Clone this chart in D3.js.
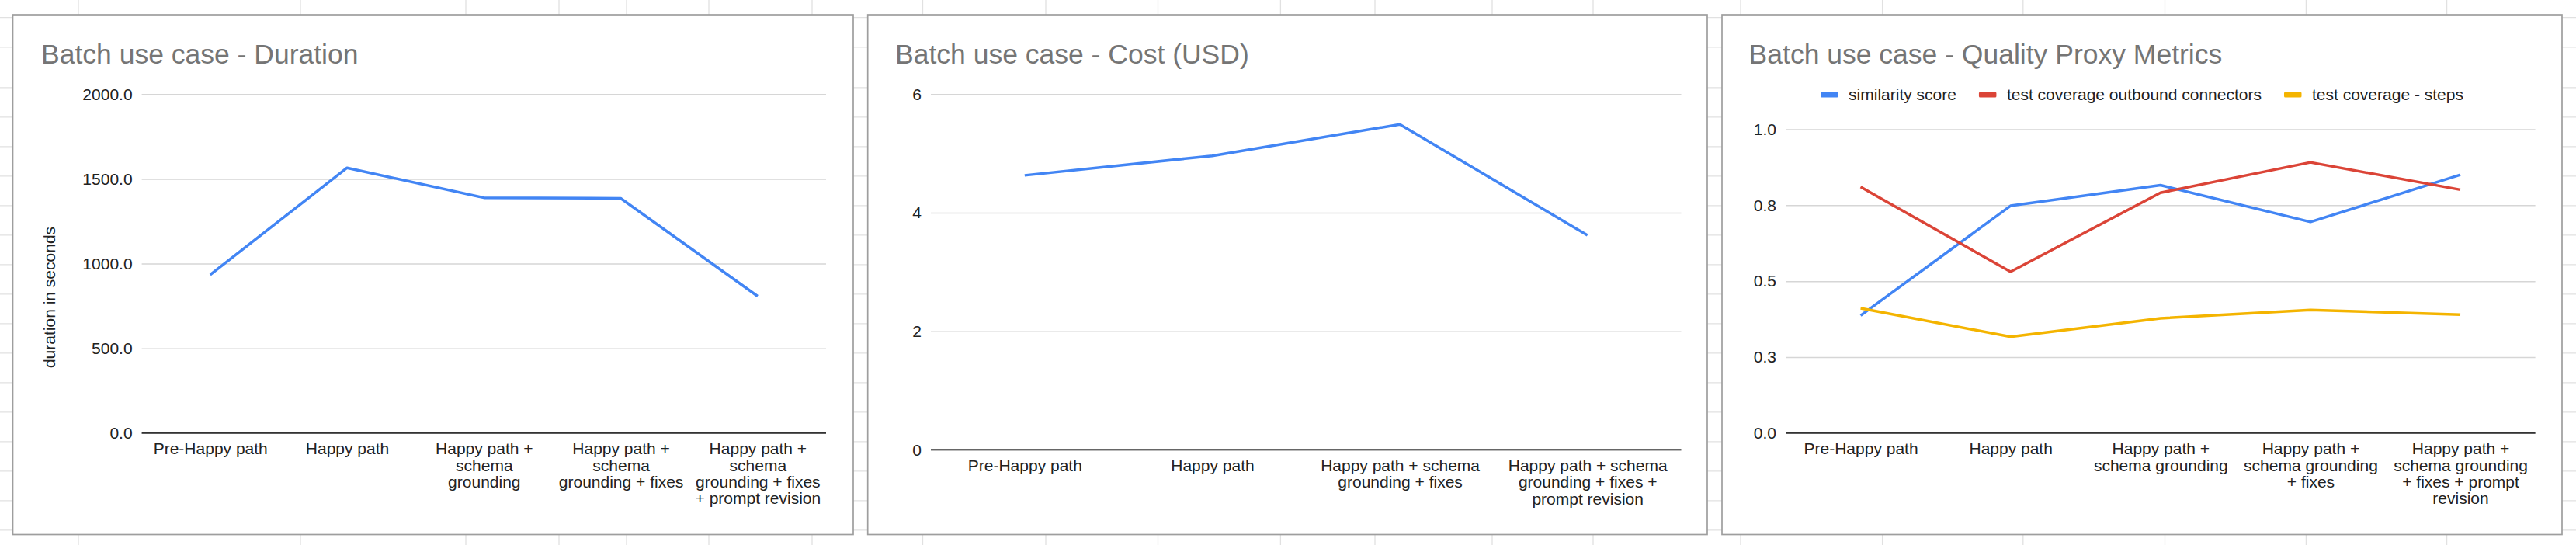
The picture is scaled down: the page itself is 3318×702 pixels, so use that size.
<!DOCTYPE html>
<html>
<head>
<meta charset="utf-8">
<script src="https://cdn.jsdelivr.net/npm/d3@7/dist/d3.min.js"></script>
<style>
  html, body { margin: 0; padding: 0; background: #fff; }
  svg { display: block; }
  text { font-family: 'Liberation Sans', Arial, Helvetica, sans-serif; }
</style>
</head>
<body>
<svg id="chart" width="3318" height="702"></svg>
<script>
// ---------------- DATA ----------------
const categoriesDuration = [
  "Pre-Happy path",
  "Happy path",
  "Happy path + schema grounding",
  "Happy path + schema grounding + fixes",
  "Happy path + schema grounding + fixes + prompt revision"
];
const durationSeconds = [934, 1565, 1389, 1385, 808];
const durationTicks = [0, 500, 1000, 1500, 2000];
const durationTickLabels = ["0.0", "500.0", "1000.0", "1500.0", "2000.0"];

const categoriesCost = [
  "Pre-Happy path",
  "Happy path",
  "Happy path + schema grounding + fixes",
  "Happy path + schema grounding + fixes + prompt revision"
];
const costUSD = [4.63, 4.96, 5.49, 3.62];
const costTicks = [0, 2, 4, 6];
const costTickLabels = ["0", "2", "4", "6"];

const categoriesQuality = categoriesDuration;
const qualitySeriesNames = ["similarity score", "test coverage outbound connectors", "test coverage - steps"];
const similarityScore = [0.387, 0.748, 0.816, 0.695, 0.850];
const coverageOutbound = [0.810, 0.531, 0.791, 0.891, 0.801];
const coverageSteps = [0.411, 0.317, 0.378, 0.405, 0.390];
const qualityTicks = [0, 0.25, 0.5, 0.75, 1.0];
const qualityTickLabels = ["0.0", "0.3", "0.5", "0.8", "1.0"];

// ---------------- STYLE / LAYOUT ----------------
const FONT = 21;
const LINE_H = 21.3;
const COLORS = ["#4285F4", "#DB4437", "#F4B400"];

const svg = d3.select("#chart");
svg.append("rect").attr("width", 3318).attr("height", 702).attr("fill", "#fff");

// spreadsheet cell grid behind the charts
const sheetRows = [22.7, 60.8].concat(d3.range(112.8, 702, 38));
const sheetCols = [101, 387, 600, 720, 807, 913, 1046, 1188.5, 1347, 1491.5, 1649.4, 1771, 1922, 2052,
                   2242, 2424.6, 2605.8, 2788.5, 2970.4, 3151.6];
const sheet = svg.append("g");
sheet.selectAll("line.r").data(sheetRows).join("line")
  .attr("x1", 0).attr("x2", 3318).attr("y1", d => d).attr("y2", d => d)
  .attr("stroke", "#e1e1e1").attr("stroke-width", 1.3);
sheet.selectAll("line.c").data(sheetCols).join("line")
  .attr("y1", 0).attr("y2", 702).attr("x1", d => d).attr("x2", d => d)
  .attr("stroke", "#e1e1e1").attr("stroke-width", 1.3);

function wrapLabel(textSel, label, maxWidth) {
  const words = label.split(" ");
  const lines = [];
  let cur = [];
  const probe = textSel.append("tspan");
  words.forEach(w => {
    const trial = cur.concat([w]).join(" ");
    probe.text(trial);
    if (cur.length && probe.node().getComputedTextLength() > maxWidth) {
      lines.push(cur.join(" "));
      cur = [w];
    } else {
      cur.push(w);
    }
  });
  if (cur.length) lines.push(cur.join(" "));
  probe.remove();
  return lines;
}

function drawChart(cfg) {
  const g = svg.append("g");
  // card
  g.append("rect")
    .attr("x", cfg.box[0]).attr("y", cfg.box[1])
    .attr("width", cfg.box[2] - cfg.box[0]).attr("height", cfg.box[3] - cfg.box[1])
    .attr("fill", "#fff").attr("stroke", "#9e9e9e").attr("stroke-width", 1.7);

  // title
  g.append("text")
    .attr("x", cfg.titleX).attr("y", 81.5)
    .attr("font-size", 35.5).attr("fill", "#757575")
    .text(cfg.title);

  const [L, R, T, B] = cfg.plot;
  const x = d3.scalePoint().domain(cfg.categories).range([L, R]).padding(0.5);
  const y = d3.scaleLinear().domain([cfg.ticks[0], cfg.ticks[cfg.ticks.length - 1]]).range([B, T]);

  // y axis with gridlines
  const yAxis = d3.axisLeft(y)
    .tickValues(cfg.ticks)
    .tickFormat((d, i) => cfg.tickLabels[i])
    .tickSize(-(R - L))
    .tickPadding(12);
  const ya = g.append("g").attr("transform", `translate(${L},0)`).call(yAxis);
  ya.select(".domain").remove();
  ya.selectAll(".tick line").attr("stroke", "#d6d6d6").attr("stroke-width", 1.5);
  ya.selectAll(".tick text")
    .attr("font-size", FONT).attr("fill", "#222")
    .attr("font-family", "'Liberation Sans', Arial, sans-serif");

  // baseline
  g.append("line")
    .attr("x1", L).attr("x2", R).attr("y1", y(cfg.ticks[0])).attr("y2", y(cfg.ticks[0]))
    .attr("stroke", "#333").attr("stroke-width", 2);

  // x axis labels
  const xAxis = d3.axisBottom(x).tickSize(0).tickPadding(0);
  const xa = g.append("g").attr("transform", `translate(0,${B})`).call(xAxis);
  xa.select(".domain").remove();
  const maxW = x.step() * 0.95;
  xa.selectAll(".tick text").each(function(d) {
    const t = d3.select(this);
    t.attr("font-size", FONT).attr("fill", "#222")
     .attr("font-family", "'Liberation Sans', Arial, sans-serif")
     .attr("y", null).attr("dy", null);
    t.text(null);
    const lines = wrapLabel(t, d, maxW);
    lines.forEach((ln, i) => {
      t.append("tspan").attr("x", 0).attr("y", 27.7 + i * LINE_H).text(ln);
    });
  });

  // series
  const line = d3.line().x((d, i) => x(cfg.categories[i])).y(d => y(d));
  cfg.series.forEach((s, k) => {
    g.append("path")
      .datum(s)
      .attr("d", line)
      .attr("fill", "none")
      .attr("stroke", COLORS[k])
      .attr("stroke-width", 3.5)
      .attr("stroke-linejoin", "round");
  });

  return { g, x, y };
}

drawChart({
  box: [16.5, 19, 1099, 688.5],
  plot: [182.6, 1064, 121.3, 557.8],
  title: "Batch use case - Duration",
  titleX: 53,
  categories: categoriesDuration,
  ticks: durationTicks,
  tickLabels: durationTickLabels,
  series: [durationSeconds]
}).g.append("text")
  .attr("transform", "translate(70.5,383) rotate(-90)")
  .attr("text-anchor", "middle")
  .attr("font-size", FONT).attr("fill", "#222")
  .text("duration in seconds");

drawChart({
  box: [1117.7, 19, 2199, 688.5],
  plot: [1199, 2165.5, 121.3, 579.3],
  title: "Batch use case - Cost (USD)",
  titleX: 1153,
  categories: categoriesCost,
  ticks: costTicks,
  tickLabels: costTickLabels,
  series: [costUSD]
});

const q = drawChart({
  box: [2218, 19, 3300, 688.5],
  plot: [2300, 3265.6, 166.5, 557.8],
  title: "Batch use case - Quality Proxy Metrics",
  titleX: 2252.6,
  categories: categoriesQuality,
  ticks: qualityTicks,
  tickLabels: qualityTickLabels,
  series: [similarityScore, coverageOutbound, coverageSteps]
});

// legend, centered on the card
const legend = q.g.append("g");
const items = qualitySeriesNames.map((name, i) => {
  const it = legend.append("g");
  it.append("rect").attr("x", 0).attr("y", -3.5).attr("width", 22.5).attr("height", 7)
    .attr("rx", 1.5).attr("fill", COLORS[i]);
  const t = it.append("text").attr("x", 36).attr("y", 7.3)
    .attr("font-size", FONT).attr("fill", "#222").text(name);
  return { it, w: 36 + t.node().getComputedTextLength() };
});
const gap = 29;
const total = d3.sum(items, d => d.w) + gap * (items.length - 1);
let cx = (2218 + 3300) / 2 - total / 2;
items.forEach(d => {
  d.it.attr("transform", `translate(${cx},122)`);
  cx += d.w + gap;
});
</script>
</body>
</html>
